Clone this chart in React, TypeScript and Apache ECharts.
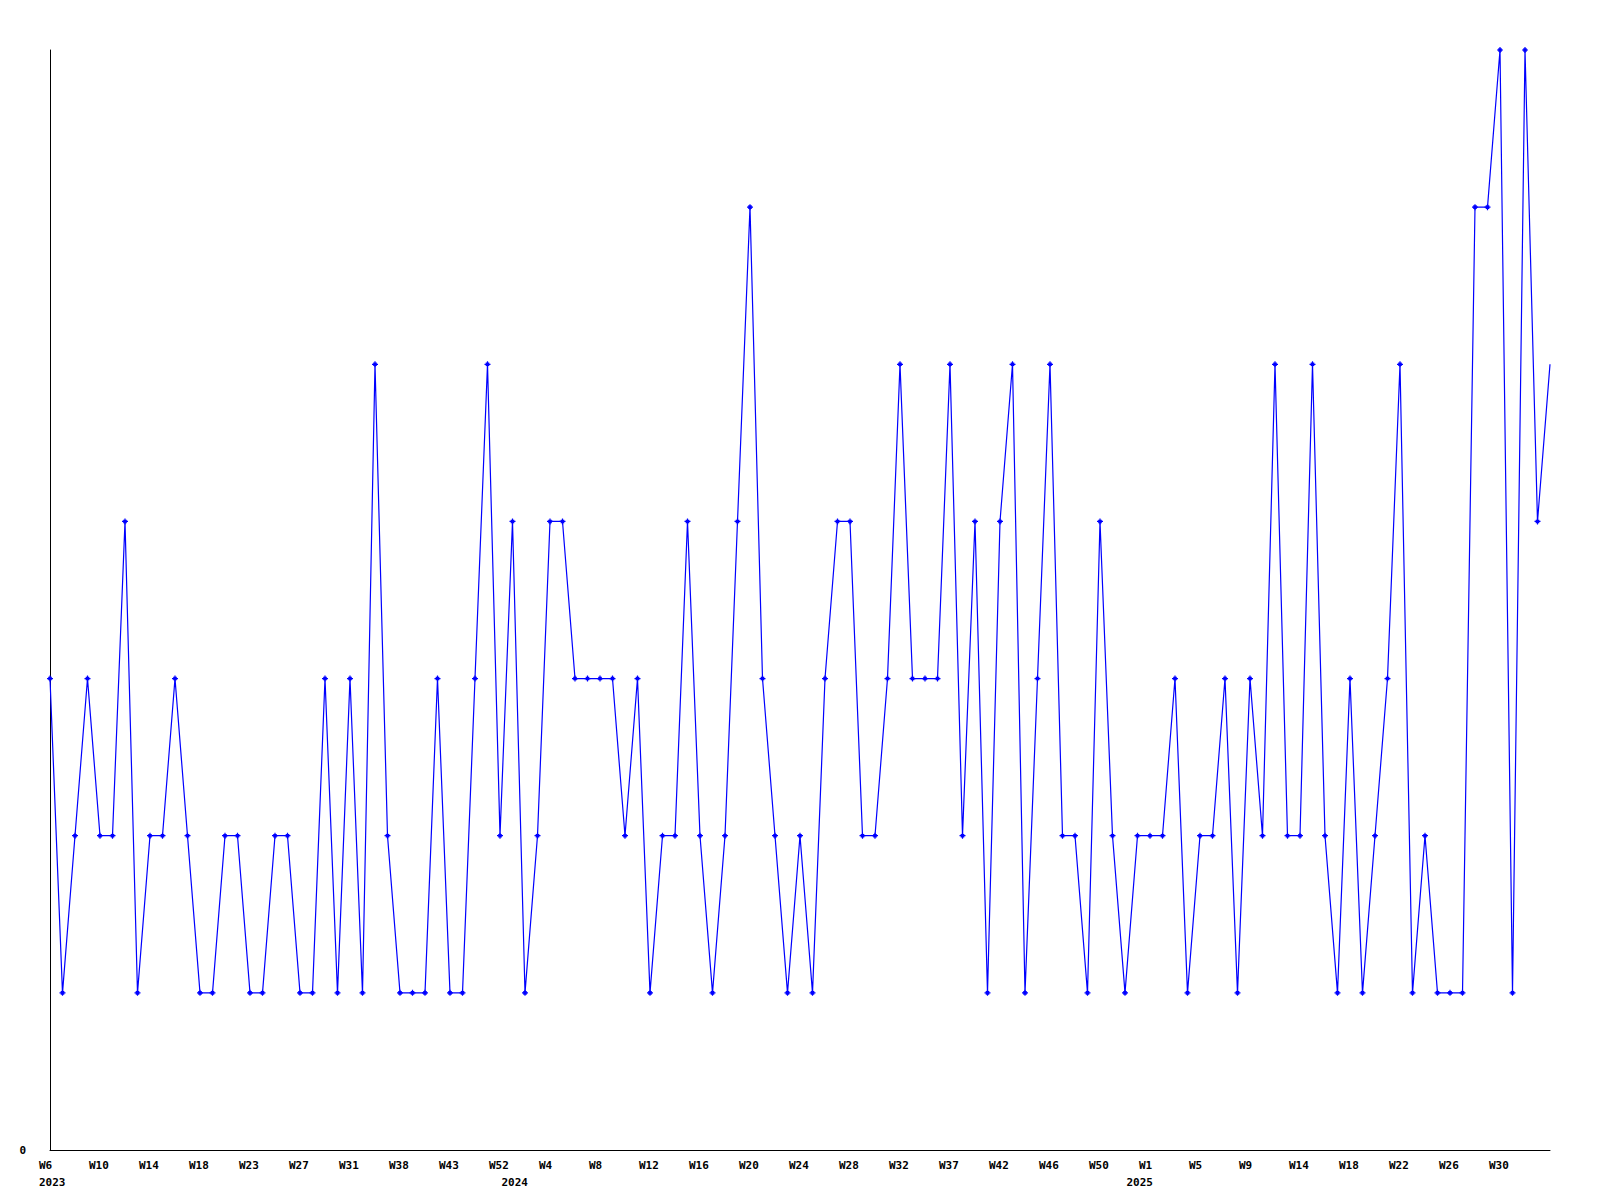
import React, { useEffect, useRef } from "react";
import * as echarts from "echarts";

// Week numbers present in the data, per year
const weeks2023: number[] = [6, 7, 8, 9, 10, 11, 12, 13, 14, 15, 16, 17, 18, 19, 20, 21, 23, 24, 25, 26, 27, 28, 29, 30, 31, 33, 34, 36, 38, 39, 40, 42, 43, 45, 47, 50, 52];
const weeks2024: number[] = [1, 2, 3, 4, 5, 6, 7, 8, 9, 10, 11, 12, 13, 14, 15, 16, 17, 18, 19, 20, 21, 22, 23, 24, 25, 26, 27, 28, 29, 30, 31, 32, 33, 34, 36, 37, 38, 39, 41, 42, 43, 44, 45, 46, 47, 48, 49, 50, 51, 52];
const weeks2025: number[] = [0, 1, 2, 3, 4, 5, 6, 7, 8, 9, 10, 11, 13, 14, 15, 16, 17, 18, 19, 20, 21, 22, 23, 24, 25, 26, 27, 28, 29, 30, 31, 32, 33, 34];

// Weekly values
const counts: number[] = [
  3, 1, 2, 3, 2, 2, 4, 1, 2, 2,
  3, 2, 1, 1, 2, 2, 1, 1, 2, 2,
  1, 1, 3, 1, 3, 1, 5, 2, 1, 1,
  1, 3, 1, 1, 3, 5, 2, 4, 1, 2,
  4, 4, 3, 3, 3, 3, 2, 3, 1, 2,
  2, 4, 2, 1, 2, 4, 6, 3, 2, 1,
  2, 1, 3, 4, 4, 2, 2, 3, 5, 3,
  3, 3, 5, 2, 4, 1, 4, 5, 1, 3,
  5, 2, 2, 1, 4, 2, 1, 2, 2, 2,
  3, 1, 2, 2, 3, 1, 3, 2, 5, 2,
  2, 5, 2, 1, 3, 1, 2, 3, 5, 1,
  2, 1, 1, 1, 6, 6, 7, 1, 7, 4, 5,
];

const yearWeeks: [string, number[]][] = [
  ["2023", weeks2023],
  ["2024", weeks2024],
  ["2025", weeks2025],
];

const categories: string[] = [];
const weekLabel: string[] = [];
const yearLabel: string[] = [];
yearWeeks.forEach(([y, ws]) => {
  ws.forEach((w, j) => {
    categories.push(`${y}-W${w}`);
    weekLabel.push(`W${w}`);
    yearLabel.push(j === 0 ? y : "");
  });
});

const FONT = "'DejaVu Sans Mono', 'Liberation Mono', monospace";
const LAST = categories.length - 1;
const showWeek = (i: number) => i % 4 === 0 && i < LAST;

export default function App() {
  const ref = useRef<HTMLDivElement>(null);
  useEffect(() => {
    if (!ref.current) return;
    const chart = echarts.init(ref.current, undefined, { renderer: "svg" });
    chart.setOption({
      animation: false,
      backgroundColor: "#ffffff",
      grid: { left: 50, right: 50, top: 50, bottom: 50, containLabel: false },
      xAxis: {
        type: "category",
        data: categories,
        boundaryGap: false,
        axisLine: { show: true, lineStyle: { color: "#000", width: 1 } },
        axisTick: { show: false },
        splitLine: { show: false },
        axisLabel: {
          interval: (index: number) => showWeek(index) || yearLabel[index] !== "",
          formatter: (_v: string, index: number) => {
            const w = showWeek(index) ? weekLabel[index] : "";
            const y = yearLabel[index];
            return y ? `${w}\n${y}` : w;
          },
          align: "left",
          padding: [0, 0, 0, -11],
          margin: 7,
          fontFamily: FONT,
          fontWeight: "bold",
          fontSize: 11,
          lineHeight: 17,
          color: "#000",
        },
      },
      yAxis: {
        type: "value",
        min: 0,
        max: 7,
        interval: 7,
        axisLine: { show: true, lineStyle: { color: "#000", width: 1 } },
        axisTick: { show: false },
        splitLine: { show: false },
        axisLabel: {
          formatter: (v: number) => (v === 0 ? "0" : ""),
          margin: 24,
          fontFamily: FONT,
          fontWeight: "bold",
          fontSize: 11,
          color: "#000",
        },
      },
      series: [
        {
          type: "line",
          data: counts.map((v, i) => (i === LAST ? { value: v, symbol: "none" } : v)),
          symbol: "path://M2,0L3,0L3,1L4,1L4,2L5,2L5,3L4,3L4,4L3,4L3,5L2,5L2,4L1,4L1,3L0,3L0,2L1,2L1,1L2,1Z",
          symbolSize: 6,
          showAllSymbol: true,
          lineStyle: { color: "#0000ff", width: 1.2 },
          itemStyle: { color: "#0000ff" },
        },
      ],
    });
    return () => chart.dispose();
  }, []);
  return (
    <div
      ref={ref}
      style={{ position: "absolute", left: 0, top: 0, width: 1600, height: 1200, background: "#fff" }}
    />
  );
}
